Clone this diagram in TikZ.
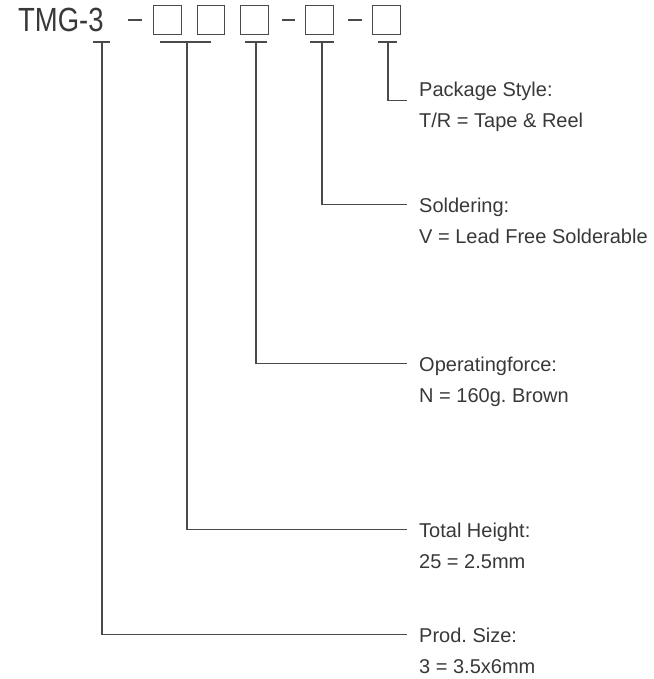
\documentclass[tikz,border=0pt]{standalone}
\usepackage{fontspec}
\setmainfont{Liberation Sans}
\usepackage{tikz}
\usetikzlibrary{positioning, calc}
\definecolor{linegray}{HTML}{4A4A4A}
\definecolor{textgray}{HTML}{383838}
\frenchspacing

\begin{document}
\begin{tikzpicture}[x=1pt, y=-1pt,
  wire/.style={draw=linegray, line width=1.1pt},
  digit/.style={draw=linegray, line width=1.1pt, minimum width=27.5pt, minimum height=29pt, inner sep=0pt},
  head/.style={anchor=base west, inner xsep=12pt, inner ysep=0pt, text height=14.4pt, text depth=0pt,
    text=textgray, font=\fontsize{20pt}{24pt}\selectfont},
  val/.style={anchor=base west, inner xsep=12pt, inner ysep=0pt, text=textgray, font=\fontsize{20pt}{24pt}\selectfont}]
  \useasboundingbox (0,0) rectangle (653,679);
  % ================================================================
  % part number
  % ================================================================
  \node[anchor=base west, inner sep=0pt, text=textgray, font=\fontsize{33.5pt}{36pt}\selectfont] (code) at (18,32) {\scalebox{0.82}[1]{TMG-3}};
  \node[digit] (b1) at (167.5,20) {};
  \node[digit] (b2) at (211,20) {};
  \node[digit] (b3) at (254.5,20) {};
  \node[digit] (b4) at (319.5,20) {};
  \node[digit] (b5) at (386.5,20) {};
  % dashes ---------------------------------------------------------
  \draw[wire] (128,20) -- (142,20);
  \draw[wire] (282,20) -- (295,20);
  \draw[wire] (348,20) -- (362,20);
  % T bars ---------------------------------------------------------
  \coordinate (t1) at (102,42);
  \coordinate (t2) at (187,42);
  \coordinate (t3) at (256,42);
  \coordinate (t4) at (322,42);
  \coordinate (t5) at (388,42);
  \draw[wire] (93,42) -- (110,42);
  \draw[wire] (160,42) -- (211,42);
  \draw[wire] (245,42) -- (267,42);
  \draw[wire] (310,42) -- (334,42);
  \draw[wire] (378,42) -- (397,42);
  % ================================================================
  % labels
  % ================================================================
  \node[head] (pack) at (407,97) {Package Style:};
  \node[val] (pack-v) at (407,128) {T/R = Tape \& Reel};
  \node[head] (sold) at (407,212) {Soldering:};
  \node[val] (sold-v) at (407,243) {V = Lead Free Solderable};
  \node[head] (force) at (407,371) {Operatingforce:};
  \node[val] (force-v) at (407,402) {N = 160g. Brown};
  \node[head] (height) at (407,537) {Total Height:};
  \node[val] (height-v) at (407,568) {25 = 2.5mm};
  \node[head] (size) at (407,642) {Prod. Size:};
  \node[val] (size-v) at (407,673) {3 = 3.5x6mm};
  % leaders --------------------------------------------------------
  \draw[wire] (t5) |- ([yshift=-3pt]pack.south west);
  \draw[wire] (t4) |- (sold.west);
  \draw[wire] (t3) |- (force.west);
  \draw[wire] (t2) |- (height.west);
  \draw[wire] (t1) |- (size.west);
\end{tikzpicture}
\end{document}
